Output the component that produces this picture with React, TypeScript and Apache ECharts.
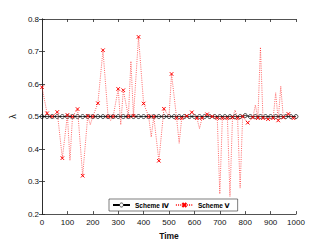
import React, { useEffect, useRef } from "react";
import * as echarts from "echarts";

// Scheme IV (black line, circle markers)
const schemeIVTime = [
  0, 20, 40, 60, 80, 100, 120, 140, 160, 180, 200, 220, 240, 260, 280, 300, 320,
  340, 360, 380, 400, 420, 440, 460, 480, 500, 520, 540, 560, 580, 600, 620, 640,
  660, 680, 700, 720, 740, 760, 780, 800, 820, 840, 860, 880, 900, 920, 940, 960,
  980, 1000,
];
const schemeIVValue = [
  0.5, 0.5, 0.5, 0.5, 0.5, 0.5, 0.5, 0.5, 0.5, 0.5, 0.5, 0.5, 0.5, 0.5, 0.5, 0.5,
  0.5, 0.5, 0.5, 0.5, 0.5, 0.5, 0.5, 0.5, 0.5, 0.5, 0.5, 0.5, 0.5, 0.5, 0.5, 0.5,
  0.5, 0.5, 0.5, 0.5, 0.5, 0.5, 0.5, 0.5, 0.503, 0.5, 0.5, 0.5, 0.5, 0.5, 0.5,
  0.5, 0.5, 0.5, 0.5,
];

// Scheme V (red dotted line): marked samples
const schemeVMarkerTime = [
  0, 20, 40, 60, 80, 100, 120, 140, 160, 180, 200, 220, 240, 260, 280, 300, 320,
  340, 360, 380, 400, 420, 440, 460, 480, 510, 530, 550, 570, 590, 610, 630, 650,
  670, 690, 710, 730, 750, 770, 790, 810, 830, 850, 870, 890, 910, 930, 950, 970,
  990,
];
const schemeVMarkerValue = [
  0.59, 0.51, 0.5, 0.514, 0.372, 0.505, 0.5, 0.523, 0.318, 0.502, 0.5, 0.541,
  0.704, 0.5, 0.5, 0.585, 0.581, 0.5, 0.502, 0.745, 0.54, 0.5, 0.5, 0.364, 0.524,
  0.631, 0.495, 0.495, 0.502, 0.513, 0.495, 0.495, 0.507, 0.5, 0.495, 0.495,
  0.495, 0.497, 0.495, 0.5, 0.481, 0.497, 0.495, 0.495, 0.492, 0.495, 0.488,
  0.497, 0.508, 0.495,
];
// Scheme V: unmarked samples between markers
const schemeVPeakTime = [
  110, 190, 270, 310, 350, 430, 500, 540, 620, 700, 740, 760, 780, 840, 860, 920,
  940, 1000,
];
const schemeVPeakValue = [
  0.365, 0.475, 0.488, 0.475, 0.67, 0.437, 0.5, 0.418, 0.463, 0.262, 0.254, 0.52,
  0.28, 0.535, 0.713, 0.573, 0.593, 0.497,
];

const xTicks = { min: 0, max: 1000, interval: 100 };
const yTicks = { min: 0.2, max: 0.8, interval: 0.1 };

const FONT = "'Liberation Sans', Arial, 'DejaVu Sans', sans-serif";
const AX = "#262626";

export default function App() {
  const ref = useRef<HTMLDivElement>(null);
  useEffect(() => {
    if (!ref.current) return;
    const chart = echarts.init(ref.current, undefined, { renderer: "svg" });

    const ivData = schemeIVTime.map((t, i) => [t, schemeIVValue[i]]);
    const vPts: any[] = [];
    schemeVMarkerTime.forEach((t, i) => vPts.push({ value: [t, schemeVMarkerValue[i]] }));
    schemeVPeakTime.forEach((t, i) =>
      vPts.push({ value: [t, schemeVPeakValue[i]], symbol: "none" })
    );
    vPts.sort((a, b) => a.value[0] - b.value[0]);

    const axisCommon = {
      axisLine: { show: true, lineStyle: { color: AX, width: 0.8 } },
      axisTick: { show: true, inside: true, length: 3, lineStyle: { color: AX, width: 0.8 } },
      splitLine: { show: false },
    };

    chart.setOption({
      animation: false,
      textStyle: { fontFamily: FONT },
      grid: { left: 42, right: 31, top: 19, bottom: 27 },
      xAxis: [
        {
          type: "value",
          ...xTicks,
          position: "bottom",
          ...axisCommon,
          axisLabel: {
            fontSize: 8,
            color: "#111",
            margin: 4,
            fontFamily: FONT,
            formatter: (v: number) => String(v),
          },
          name: "Time",
          nameLocation: "middle",
          nameGap: 15,
          nameTextStyle: { fontSize: 8.5, fontWeight: "bold", color: "#111", fontFamily: FONT },
        },
        {
          type: "value",
          ...xTicks,
          position: "top",
          ...axisCommon,
          axisLabel: { show: false },
        },
      ],
      yAxis: [
        {
          type: "value",
          ...yTicks,
          position: "left",
          ...axisCommon,
          axisLabel: {
            fontSize: 8,
            color: "#111",
            margin: 3,
            fontFamily: FONT,
            formatter: (v: number) => v.toFixed(1),
          },
          name: "λ",
          nameLocation: "middle",
          nameGap: 17,
          nameRotate: 90,
          nameTextStyle: { fontSize: 9, color: "#111", fontFamily: FONT },
        },
        {
          type: "value",
          ...yTicks,
          position: "right",
          ...axisCommon,
          axisLabel: { show: false },
        },
      ],
      legend: {
        left: 109,
        top: 199,
        orient: "horizontal",
        backgroundColor: "#fff",
        borderColor: AX,
        borderWidth: 0.6,
        borderRadius: 0,
        padding: [2, 8, 2, 3],
        itemWidth: 17,
        itemHeight: 5,
        itemGap: 6,
        textStyle: { fontSize: 6.5, fontWeight: "bold", color: "#000", fontFamily: FONT, lineHeight: 8 },
        data: [
          {
            name: "Scheme Ⅳ",
            itemStyle: { color: "#fff", borderColor: "#000", borderWidth: 0.7 },
          },
          { name: "Scheme Ⅴ" },
        ],
      },
      series: [
        {
          name: "Scheme Ⅳ",
          type: "line",
          data: ivData,
          symbol: "circle",
          symbolSize: 4,
          showSymbol: true,
          showAllSymbol: true,
          itemStyle: { color: "rgba(0,0,0,0)", borderColor: "#000", borderWidth: 0.7 },
          lineStyle: { color: "#000", width: 0.8 },
          z: 2,
        },
        {
          name: "Scheme Ⅴ",
          type: "line",
          data: vPts,
          symbol: "path://M0,0L10,10M10,0L0,10",
          symbolSize: 3.5,
          showSymbol: true,
          showAllSymbol: true,
          itemStyle: { color: "#ff0000", borderColor: "#ff0000", borderWidth: 1 },
          lineStyle: { color: "#ff2020", width: 0.8, type: [1, 1.2], opacity: 0.85 },
          z: 3,
        },
      ],
    });
    return () => chart.dispose();
  }, []);
  return (
    <div
      ref={ref}
      style={{ position: "fixed", left: 0, top: 0, width: 327, height: 245, background: "#fff" }}
    />
  );
}
